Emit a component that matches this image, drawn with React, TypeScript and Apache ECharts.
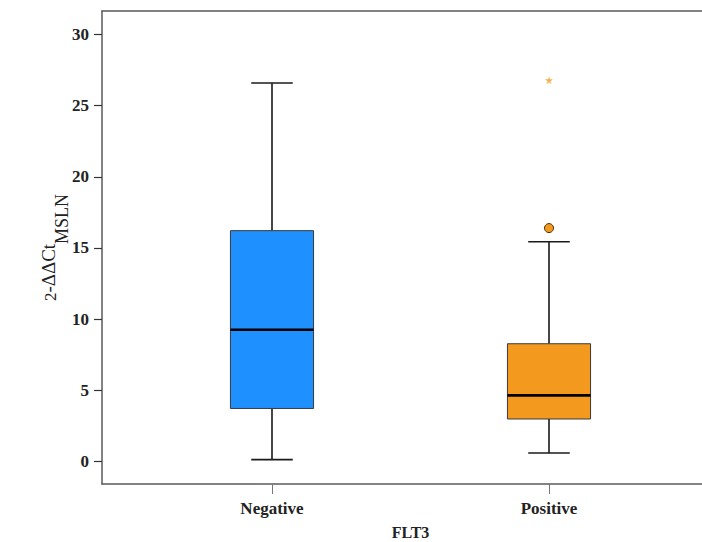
import React, { useEffect, useRef } from "react";
import * as echarts from "echarts";

const categories = ["Negative", "Positive"];
const categoryPositions = [1, 2];
// [min, Q1, median, Q3, max]
const negativeBox = [0.12, 3.72, 9.25, 16.22, 26.6];
const positiveBox = [0.59, 2.98, 4.64, 8.27, 15.44];
const outlierPoints = [[2, 16.4]];
const extremePoints = [[2, 26.8]];
const yTickValues = [0, 5, 10, 15, 20, 25, 30];
const boxColors = ["#1E90FF", "#F39A1E"];

const FONT = "'Liberation Serif', 'Times New Roman', serif";
const STAR =
  "path://M50,0 L61,35 L98,35 L68,57 L79,91 L50,70 L21,91 L32,57 L2,35 L39,35 Z";

export default function App() {
  const ref = useRef<HTMLDivElement>(null);
  useEffect(() => {
    document.body.style.margin = "0";
    if (!ref.current) return;
    const chart = echarts.init(ref.current, undefined, { renderer: "svg" });
    const boxData = [
      [categoryPositions[0], ...negativeBox],
      [categoryPositions[1], ...positiveBox],
    ];
    const axisLineStyle = { color: "#5a5a5a", width: 1.5 };
    chart.setOption({
      animation: false,
      backgroundColor: "#ffffff",
      grid: {
        left: 102,
        width: 617,
        top: 11,
        bottom: 58,
        containLabel: false,
        outerBoundsMode: "none",
      },
      xAxis: [
        {
          type: "value",
          min: 0.3863,
          max: 2.6137,
          splitLine: { show: false },
          axisLine: { show: true, onZero: false, lineStyle: axisLineStyle },
          axisTick: {
            show: true,
            length: 10,
            customValues: categoryPositions,
            lineStyle: { color: "#777", width: 1 },
          },
          axisLabel: {
            customValues: categoryPositions,
            formatter: (v: number) => categories[categoryPositions.indexOf(Math.round(v))] ?? "",
            fontFamily: FONT,
            fontWeight: "bold",
            fontSize: 17,
            color: "#222",
            margin: 16,
          },
          name: "FLT3",
          nameLocation: "middle",
          nameGap: 40,
          nameMoveOverlap: false,
          nameTextStyle: { fontFamily: FONT, fontWeight: "bold", fontSize: 16, color: "#222" },
        },
        {
          type: "value",
          position: "top",
          min: 0.3863,
          max: 2.6137,
          splitLine: { show: false },
          axisLine: { show: true, onZero: false, lineStyle: axisLineStyle },
          axisTick: { show: false },
          axisLabel: { show: false },
        },
      ],
      yAxis: {
        type: "value",
        min: -1.59,
        max: 31.66,
        splitLine: { show: false },
        axisLine: { show: true, onZero: false, lineStyle: axisLineStyle },
        axisTick: {
          show: true,
          length: 8,
          customValues: yTickValues,
          lineStyle: { color: "#333", width: 1.2 },
        },
        axisLabel: {
          customValues: yTickValues,
          fontFamily: FONT,
          fontWeight: "bold",
          fontSize: 17,
          color: "#222",
          margin: 13,
        },
        name: "{base|2}{sup|-ΔΔCt}{sub|MSLN}",
        nameLocation: "middle",
        nameRotate: 90,
        nameGap: 31,
        nameMoveOverlap: false,
        nameTextStyle: {
          fontFamily: FONT,
          color: "#222",
          rich: {
            base: {
              fontFamily: FONT, fontSize: 17, lineHeight: 17, color: "#222",
              verticalAlign: "bottom", padding: [0, 0, 12, 0],
            },
            sup: {
              fontFamily: FONT, fontSize: 19, lineHeight: 19, color: "#222",
              verticalAlign: "bottom", padding: [0, 0, 13, 0],
            },
            sub: {
              fontFamily: FONT, fontSize: 18, lineHeight: 18, color: "#222",
              verticalAlign: "bottom",
            },
          },
        },
      },
      series: [
        {
          type: "custom",
          data: boxData,
          encode: { x: 0, y: [1, 2, 3, 4, 5] },
          renderItem: (params: any, api: any) => {
            const x = api.value(0);
            const mn = api.value(1);
            const q1 = api.value(2);
            const md = api.value(3);
            const q3 = api.value(4);
            const mx = api.value(5);
            const pMin = api.coord([x, mn]);
            const pQ1 = api.coord([x, q1]);
            const pMd = api.coord([x, md]);
            const pQ3 = api.coord([x, q3]);
            const pMax = api.coord([x, mx]);
            const halfBox = api.size([0.3, 0])[0] / 2;
            const halfCap = halfBox / 2;
            const color = boxColors[params.dataIndex];
            const ws = { stroke: "#1a1a1a", lineWidth: 1.6 };
            return {
              type: "group",
              children: [
                { type: "line", shape: { x1: pMin[0], y1: pMin[1], x2: pQ1[0], y2: pQ1[1] }, style: ws },
                { type: "line", shape: { x1: pQ3[0], y1: pQ3[1], x2: pMax[0], y2: pMax[1] }, style: ws },
                { type: "line", shape: { x1: pMin[0] - halfCap, y1: pMin[1], x2: pMin[0] + halfCap, y2: pMin[1] }, style: ws },
                { type: "line", shape: { x1: pMax[0] - halfCap, y1: pMax[1], x2: pMax[0] + halfCap, y2: pMax[1] }, style: ws },
                {
                  type: "rect",
                  shape: { x: pQ3[0] - halfBox, y: pQ3[1], width: halfBox * 2, height: pQ1[1] - pQ3[1] },
                  style: { fill: color, stroke: "#3a3a3a", lineWidth: 1 },
                },
                {
                  type: "line",
                  shape: { x1: pMd[0] - halfBox, y1: pMd[1], x2: pMd[0] + halfBox, y2: pMd[1] },
                  style: { stroke: "#000", lineWidth: 2.6 },
                },
              ],
            };
          },
        },
        {
          type: "scatter",
          data: outlierPoints,
          symbol: "circle",
          symbolSize: 9,
          itemStyle: { color: "#F39A1E", borderColor: "#4a3206", borderWidth: 1, opacity: 1 },
        },
        {
          type: "scatter",
          data: extremePoints,
          symbol: STAR,
          symbolSize: 8,
          itemStyle: { color: "#F4B24E", opacity: 1 },
        },
      ],
    });
    return () => chart.dispose();
  }, []);
  return (
    <div
      ref={ref}
      style={{ width: 702, height: 542, position: "absolute", left: 0, top: 0 }}
    />
  );
}
